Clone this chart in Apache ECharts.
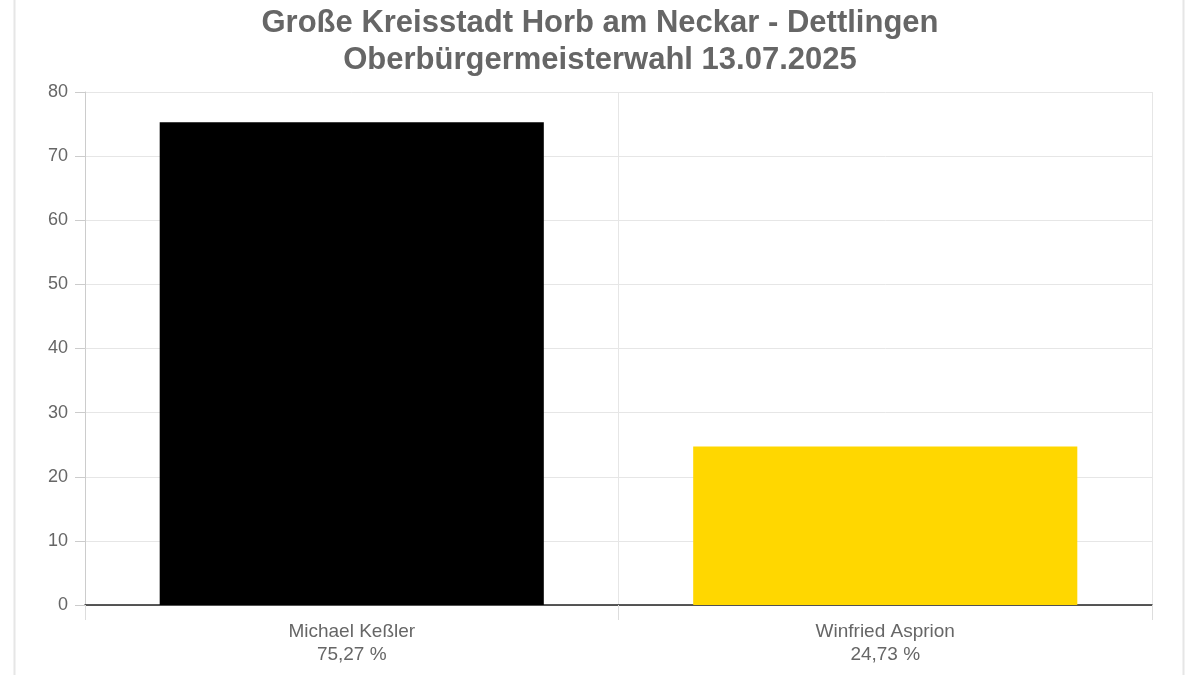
<!DOCTYPE html>
<html>
<head>
<meta charset="utf-8">
<script src="https://cdn.jsdelivr.net/npm/echarts@6/dist/echarts.min.js"></script>
<style>html,body{margin:0;padding:0;background:#fff;}#c{width:1200px;height:675px;}</style>
</head>
<body>
<div id="c"></div>
<script>
const titleLines = ['Große Kreisstadt Horb am Neckar - Dettlingen', 'Oberbürgermeisterwahl 13.07.2025'];
const candidates = ['Michael Keßler', 'Winfried Asprion'];
const shares = [75.27, 24.73];
const barColors = ['#000000', '#FFD700'];
const yTicks = { min: 0, max: 80, interval: 10 };

const fmt = v => v.toFixed(2).replace('.', ',') + ' %';
const chart = echarts.init(document.getElementById('c'), null, { renderer: 'canvas' });
chart.setOption({
  animation: false,
  backgroundColor: '#fff',
  textStyle: { fontFamily: 'Liberation Sans, Arial, sans-serif' },
  title: {
    text: titleLines.join('\n'),
    left: 'center', top: 0,
    textStyle: { fontSize: 31, fontWeight: 'bold', color: '#666', lineHeight: 37, fontFamily: 'Liberation Sans, Arial, sans-serif' }
  },
  graphic: [
    { type: 'line', shape: { x1: 14.5, y1: 0, x2: 14.5, y2: 675 }, style: { stroke: '#e6e6e6', lineWidth: 2 } },
    { type: 'line', shape: { x1: 1183.5, y1: 0, x2: 1183.5, y2: 675 }, style: { stroke: '#e6e6e6', lineWidth: 2 } }
  ],
  grid: { left: 85, right: 48, top: 92, bottom: 70, containLabel: false },
  xAxis: {
    type: 'category',
    data: candidates,
    axisLine: { show: true, lineStyle: { color: '#222', width: 1.5 } },
    axisTick: { show: true, length: 15, lineStyle: { color: '#ddd' } },
    splitLine: { show: true, lineStyle: { color: '#e6e6e6' } },
    axisLabel: {
      margin: 15, fontSize: 19, color: '#666', lineHeight: 23,
      formatter: (v, i) => v + '\n' + fmt(shares[i])
    }
  },
  yAxis: {
    type: 'value',
    min: yTicks.min, max: yTicks.max, interval: yTicks.interval,
    axisLine: { show: true, lineStyle: { color: '#ccc' } },
    axisTick: { show: true, length: 10, lineStyle: { color: '#ccc' } },
    splitLine: { show: true, lineStyle: { color: '#e6e6e6' } },
    axisLabel: { margin: 17, fontSize: 18, color: '#666' }
  },
  series: [{
    type: 'bar',
    data: shares.map((v, i) => ({ value: v, itemStyle: { color: barColors[i] } })),
    barCategoryGap: '28%'
  }]
});
</script>
</body>
</html>
